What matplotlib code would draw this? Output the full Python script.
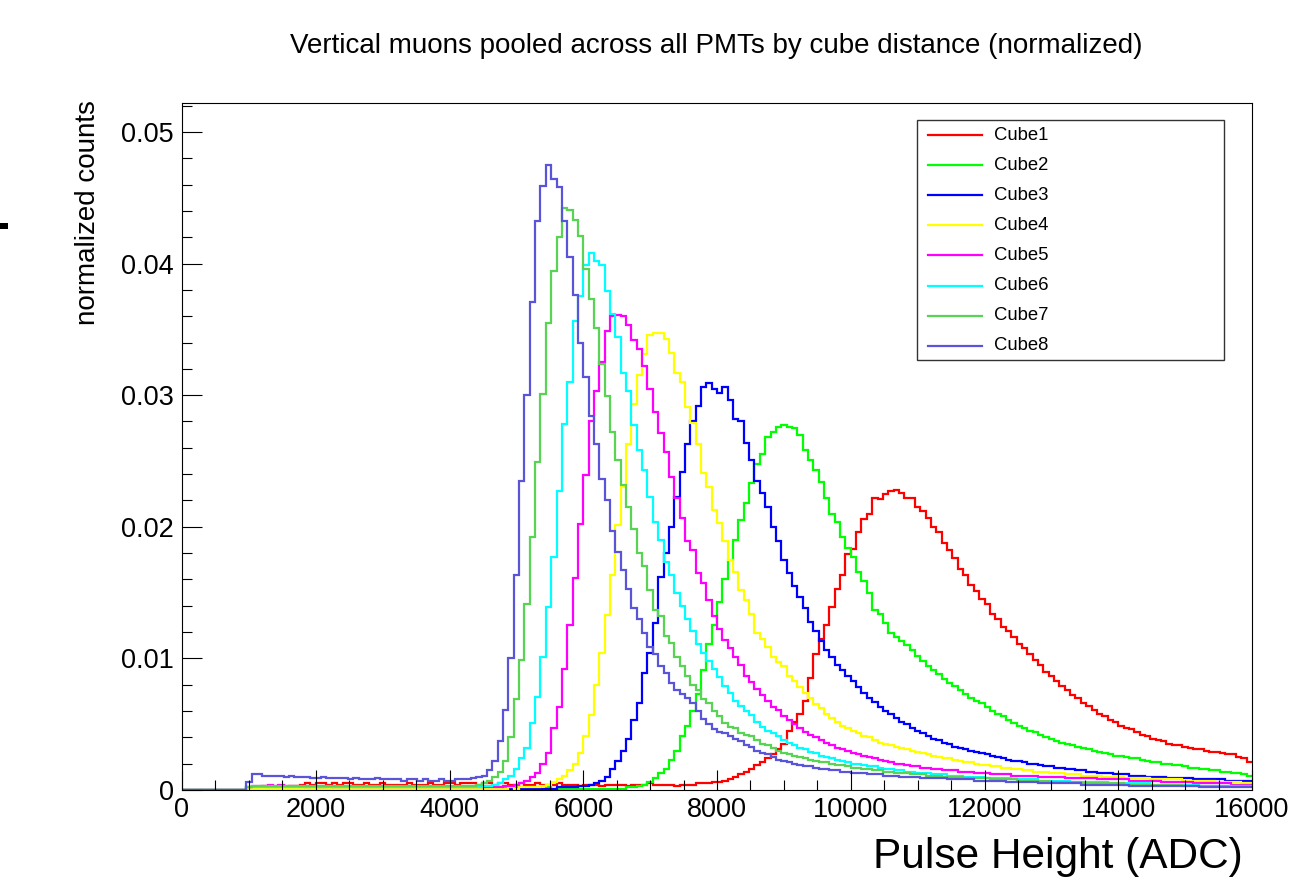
import numpy as np
import matplotlib
matplotlib.use("Agg")
import matplotlib.pyplot as plt
from matplotlib.patches import Rectangle
from matplotlib.lines import Line2D
from matplotlib.ticker import MultipleLocator, FixedLocator

plt.rcParams['font.family'] = ['Liberation Sans', 'DejaVu Sans']

# ---------------- data ----------------
title = "Vertical muons pooled across all PMTs by cube distance (normalized)"
x_label = "Pulse Height (ADC)"
y_label = "normalized counts"
labels = ["Cube1", "Cube2", "Cube3", "Cube4", "Cube5", "Cube6", "Cube7", "Cube8"]
colors = ["#ff0000", "#00ff00", "#0000ff", "#ffff00", "#ff00ff", "#00ffff", "#59d354", "#5954d8"]

bin_lo, bin_hi, n_bins = 0, 16000, 200
x_ticks = [0, 2000, 4000, 6000, 8000, 10000, 12000, 14000, 16000]
y_ticks = [0, 0.01, 0.02, 0.03, 0.04, 0.05]
y_tick_labels = ["0", "0.01", "0.02", "0.03", "0.04", "0.05"]

cube1 = [
0,0,0,0,0,0,0,0,0,0, 0,0,0.0001,0.0002,0.0002,0.0003,0.0002,0.0002,0.0003,0.0002,
0.0003,0.0003,0.0004,0.0005,0.0004,0.0005,0.0005,0.0004,0.0005,0.0004, 0.0005,0.0005,0.0004,0.0004,0.0005,0.0004,0.0004,0.0005,0.0004,0.0004,
0.0004,0.0004,0.0005,0.0004,0.0004,0.0004,0.0005,0.0004,0.0004,0.0005, 0.0005,0.0004,0.0005,0.0005,0.0005,0.0004,0.0005,0.0005,0.0004,0.0005,
0.0005,0.0004,0.0004,0.0005,0.0004,0.0004,0.0005,0.0004,0.0004,0.0004, 0.0005,0.0004,0.0004,0.0004,0.0003,0.0004,0.0004,0.0004,0.0003,0.0004,
0.0004,0.0004,0.0004,0.0003,0.0004,0.0004,0.0004,0.0005,0.0004,0.0004, 0.0004,0.0004,0.0003,0.0004,0.0004,0.0004,0.0005,0.0005,0.0005,0.0006,
0.0006,0.0007,0.0008,0.0010,0.0012,0.0014,0.0016,0.0019,0.0021,0.0024, 0.0027,0.0031,0.0035,0.0045,0.0052,0.0058,0.0068,0.0085,0.0103,0.0115,
0.0125,0.0139,0.0153,0.0163,0.0179,0.0183,0.0196,0.0206,0.0210,0.0222, 0.0221,0.0225,0.0227,0.0228,0.0226,0.0222,0.0222,0.0215,0.0212,0.0207,
0.0200,0.0196,0.0188,0.0182,0.0176,0.0168,0.0163,0.0156,0.0151,0.0145, 0.0141,0.0134,0.0130,0.0124,0.0121,0.0116,0.0111,0.0108,0.0103,0.0099,
0.0095,0.0090,0.0087,0.0083,0.0079,0.0076,0.0072,0.0070,0.0066,0.0064, 0.0061,0.0058,0.0056,0.0053,0.0052,0.0049,0.0047,0.0046,0.0044,0.0042,
0.0041,0.0039,0.0038,0.0037,0.0035,0.0034,0.0034,0.0033,0.0032,0.0031, 0.0031,0.0030,0.0029,0.0029,0.0028,0.0027,0.0027,0.0025,0.0024,0.0021,
]

cube2 = [
0,0,0,0,0,0,0,0,0,0, 0,0,0.0001,0.0002,0.0002,0.0002,0.0002,0.0002,0.0002,0.0002,
0.0002,0.0002,0.0002,0.0002,0.0002,0.0002,0.0002,0.0002,0.0002,0.0002, 0.0002,0.0002,0.0002,0.0002,0.0002,0.0002,0.0002,0.0002,0.0002,0.0002,
0.0002,0.0002,0.0002,0.0002,0.0002,0.0002,0.0002,0.0002,0.0002,0.0002, 0.0002,0.0002,0.0002,0.0002,0.0002,0.0002,0.0002,0.0002,0.0002,0.0002,
0.0002,0.0002,0.0002,0.0002,0.0001,0.0002,0.0002,0.0001,0.0002,0.0001, 0.0001,0.0001,0.0001,0.0001,0.0001,0.0001,0.0001,0.0001,0.0001,0.0001,
0.0001,0.0001,0.0001,0.0002,0.0002,0.0003,0.0004,0.0006,0.0009,0.0013, 0.0016,0.0023,0.0030,0.0041,0.0049,0.0060,0.0073,0.0091,0.0111,0.0125,
0.0143,0.0160,0.0175,0.0190,0.0205,0.0218,0.0233,0.0248,0.0255,0.0268, 0.0272,0.0276,0.0277,0.0276,0.0275,0.0270,0.0258,0.0251,0.0243,0.0234,
0.0222,0.0210,0.0204,0.0192,0.0184,0.0177,0.0166,0.0159,0.0150,0.0137, 0.0134,0.0127,0.0119,0.0116,0.0113,0.0110,0.0106,0.0102,0.0098,0.0094,
0.0091,0.0088,0.0084,0.0081,0.0079,0.0076,0.0073,0.0070,0.0068,0.0066, 0.0063,0.0060,0.0058,0.0056,0.0053,0.0051,0.0049,0.0047,0.0045,0.0044,
0.0042,0.0040,0.0039,0.0037,0.0036,0.0035,0.0034,0.0033,0.0032,0.0031, 0.0030,0.0029,0.0028,0.0027,0.0026,0.0026,0.0025,0.0024,0.0024,0.0023,
0.0022,0.0021,0.0021,0.0020,0.0020,0.0019,0.0019,0.0018,0.0017,0.0017, 0.0016,0.0016,0.0015,0.0015,0.0014,0.0014,0.0013,0.0013,0.0012,0.0011,
]

cube3 = [
0,0,0,0,0,0,0,0,0,0, 0,0,0.0001,0.0001,0.0001,0.0001,0.0001,0.0001,0.0001,0.0001,
0.0001,0.0001,0.0001,0.0001,0.0001,0.0001,0.0001,0.0001,0.0001,0.0001, 0.0001,0.0001,0.0001,0.0001,0.0001,0.0001,0.0001,0.0001,0.0001,0.0001,
0.0001,0.0001,0.0001,0.0001,0.0001,0.0001,0.0001,0.0001,0.0001,0.0001, 0.0001,0.0001,0.0001,0.0001,0.0001,0.0001,0.0001,0.0001,0.0001,0.0001,
0.0001,0.0001,0.0001,0.0001,0.0001,0.0001,0.0001,0.0001,0.0001,0.0001, 0.0002,0.0002,0.0002,0.0002,0.0003,0.0003,0.0004,0.0005,0.0007,0.0010,
0.0016,0.0022,0.0030,0.0039,0.0053,0.0066,0.0089,0.0104,0.0127,0.0162, 0.0180,0.0200,0.0223,0.0242,0.0263,0.0280,0.0292,0.0306,0.0309,0.0305,
0.0302,0.0306,0.0296,0.0282,0.0280,0.0264,0.0251,0.0235,0.0226,0.0215, 0.0200,0.0189,0.0175,0.0165,0.0155,0.0147,0.0138,0.0128,0.0121,0.0113,
0.0106,0.0101,0.0095,0.0091,0.0087,0.0083,0.0078,0.0074,0.0070,0.0067, 0.0063,0.0060,0.0058,0.0055,0.0052,0.0050,0.0047,0.0045,0.0043,0.0041,
0.0039,0.0038,0.0036,0.0035,0.0033,0.0032,0.0031,0.0030,0.0029,0.0028, 0.0027,0.0026,0.0025,0.0024,0.0023,0.0022,0.0022,0.0021,0.0020,0.0020,
0.0019,0.0018,0.0018,0.0017,0.0017,0.0016,0.0016,0.0015,0.0015,0.0014, 0.0014,0.0013,0.0013,0.0013,0.0012,0.0012,0.0012,0.0011,0.0011,0.0011,
0.0010,0.0010,0.0010,0.0010,0.0009,0.0009,0.0009,0.0009,0.0009,0.0008, 0.0008,0.0008,0.0008,0.0008,0.0008,0.0007,0.0007,0.0007,0.0007,0.0007,
]

cube4 = [
0,0,0,0,0,0,0,0,0,0, 0,0,0.0001,0.0001,0.0001,0.0001,0.0001,0.0001,0.0001,0.0001,
0.0001,0.0001,0.0001,0.0001,0.0001,0.0001,0.0001,0.0001,0.0001,0.0001, 0.0001,0.0001,0.0001,0.0001,0.0001,0.0001,0.0001,0.0001,0.0001,0.0001,
0.0001,0.0001,0.0001,0.0001,0.0001,0.0001,0.0001,0.0001,0.0001,0.0001, 0.0001,0.0001,0.0001,0.0001,0.0001,0.0001,0.0001,0.0001,0.0001,0.0001,
0.0001,0.0002,0.0001,0.0002,0.0002,0.0002,0.0002,0.0003,0.0004,0.0006, 0.0008,0.0011,0.0015,0.0020,0.0028,0.0041,0.0057,0.0080,0.0104,0.0133,
0.0163,0.0201,0.0230,0.0263,0.0293,0.0315,0.0331,0.0346,0.0347,0.0347, 0.0343,0.0332,0.0317,0.0310,0.0291,0.0279,0.0263,0.0241,0.0230,0.0213,
0.0203,0.0189,0.0175,0.0166,0.0152,0.0144,0.0134,0.0119,0.0115,0.0109, 0.0101,0.0097,0.0094,0.0087,0.0083,0.0078,0.0074,0.0070,0.0065,0.0062,
0.0058,0.0055,0.0052,0.0049,0.0047,0.0045,0.0043,0.0041,0.0040,0.0038, 0.0036,0.0035,0.0034,0.0033,0.0032,0.0031,0.0030,0.0029,0.0028,0.0027,
0.0026,0.0025,0.0024,0.0024,0.0023,0.0022,0.0021,0.0021,0.0020,0.0019, 0.0019,0.0018,0.0018,0.0017,0.0017,0.0016,0.0016,0.0015,0.0015,0.0014,
0.0014,0.0014,0.0013,0.0013,0.0013,0.0012,0.0012,0.0012,0.0011,0.0011, 0.0011,0.0011,0.0010,0.0010,0.0010,0.0010,0.0009,0.0009,0.0009,0.0009,
0.0009,0.0008,0.0008,0.0008,0.0008,0.0008,0.0008,0.0007,0.0007,0.0007, 0.0007,0.0007,0.0007,0.0006,0.0006,0.0006,0.0006,0.0006,0.0005,0.0005,
]

cube5 = [
0,0,0,0,0,0,0,0,0,0, 0,0,0.0002,0.0003,0.0003,0.0003,0.0004,0.0003,0.0004,0.0003,
0.0003,0.0003,0.0003,0.0002,0.0003,0.0002,0.0002,0.0003,0.0002,0.0002, 0.0002,0.0003,0.0002,0.0002,0.0002,0.0002,0.0002,0.0003,0.0002,0.0002,
0.0002,0.0002,0.0002,0.0002,0.0002,0.0002,0.0002,0.0002,0.0002,0.0002, 0.0002,0.0002,0.0002,0.0002,0.0002,0.0002,0.0002,0.0002,0.0002,0.0002,
0.0003,0.0003,0.0004,0.0005,0.0007,0.0010,0.0013,0.0020,0.0028,0.0047, 0.0063,0.0092,0.0125,0.0161,0.0202,0.0239,0.0280,0.0303,0.0325,0.0349,
0.0360,0.0361,0.0360,0.0353,0.0342,0.0335,0.0322,0.0305,0.0287,0.0271, 0.0257,0.0238,0.0222,0.0207,0.0189,0.0182,0.0165,0.0157,0.0144,0.0132,
0.0122,0.0114,0.0108,0.0101,0.0095,0.0087,0.0082,0.0077,0.0072,0.0068, 0.0063,0.0061,0.0056,0.0053,0.0050,0.0047,0.0044,0.0042,0.0040,0.0038,
0.0036,0.0034,0.0032,0.0031,0.0030,0.0028,0.0027,0.0026,0.0025,0.0024, 0.0023,0.0022,0.0021,0.0020,0.0020,0.0019,0.0018,0.0018,0.0017,0.0017,
0.0016,0.0016,0.0015,0.0015,0.0015,0.0014,0.0014,0.0014,0.0013,0.0013, 0.0013,0.0012,0.0012,0.0012,0.0012,0.0011,0.0011,0.0011,0.0011,0.0011,
0.0010,0.0010,0.0010,0.0010,0.0010,0.0009,0.0009,0.0009,0.0009,0.0009, 0.0009,0.0008,0.0008,0.0008,0.0008,0.0008,0.0008,0.0007,0.0007,0.0007,
0.0007,0.0007,0.0007,0.0006,0.0006,0.0006,0.0006,0.0006,0.0006,0.0005, 0.0005,0.0005,0.0005,0.0005,0.0005,0.0005,0.0004,0.0004,0.0004,0.0004,
]

cube6 = [
0,0,0,0,0,0,0,0,0,0, 0,0,0.0002,0.0002,0.0002,0.0002,0.0002,0.0002,0.0002,0.0002,
0.0002,0.0002,0.0002,0.0002,0.0002,0.0002,0.0002,0.0002,0.0002,0.0002, 0.0002,0.0002,0.0002,0.0002,0.0002,0.0002,0.0002,0.0002,0.0002,0.0002,
0.0002,0.0002,0.0002,0.0002,0.0002,0.0002,0.0002,0.0002,0.0002,0.0002, 0.0002,0.0002,0.0002,0.0002,0.0002,0.0002,0.0003,0.0003,0.0004,0.0005,
0.0008,0.0011,0.0016,0.0024,0.0032,0.0051,0.0071,0.0101,0.0139,0.0177, 0.0227,0.0278,0.0310,0.0356,0.0375,0.0399,0.0408,0.0402,0.0399,0.0379,
0.0362,0.0344,0.0317,0.0303,0.0277,0.0258,0.0243,0.0223,0.0204,0.0190, 0.0173,0.0163,0.0150,0.0140,0.0130,0.0121,0.0111,0.0104,0.0098,0.0092,
0.0086,0.0079,0.0074,0.0068,0.0064,0.0060,0.0057,0.0052,0.0048,0.0045, 0.0043,0.0041,0.0038,0.0036,0.0034,0.0032,0.0031,0.0029,0.0028,0.0026,
0.0025,0.0024,0.0023,0.0022,0.0021,0.0020,0.0020,0.0019,0.0018,0.0018, 0.0017,0.0016,0.0016,0.0015,0.0015,0.0014,0.0014,0.0013,0.0013,0.0013,
0.0012,0.0012,0.0012,0.0011,0.0011,0.0011,0.0010,0.0010,0.0010,0.0010, 0.0009,0.0009,0.0009,0.0009,0.0009,0.0008,0.0008,0.0008,0.0008,0.0008,
0.0007,0.0007,0.0007,0.0007,0.0007,0.0007,0.0006,0.0006,0.0006,0.0006, 0.0006,0.0006,0.0006,0.0005,0.0005,0.0005,0.0005,0.0005,0.0005,0.0005,
0.0005,0.0004,0.0004,0.0004,0.0004,0.0004,0.0004,0.0004,0.0004,0.0004, 0.0003,0.0003,0.0003,0.0003,0.0003,0.0003,0.0003,0.0003,0.0003,0.0003,
]

cube7 = [
0,0,0,0,0,0,0,0,0,0, 0,0,0.0002,0.0003,0.0003,0.0003,0.0003,0.0003,0.0003,0.0003,
0.0003,0.0003,0.0003,0.0003,0.0003,0.0003,0.0003,0.0003,0.0003,0.0003, 0.0003,0.0003,0.0003,0.0003,0.0003,0.0003,0.0003,0.0003,0.0003,0.0003,
0.0003,0.0003,0.0003,0.0003,0.0003,0.0003,0.0003,0.0003,0.0003,0.0003, 0.0003,0.0003,0.0003,0.0003,0.0003,0.0004,0.0005,0.0007,0.0010,0.0014,
0.0022,0.0040,0.0069,0.0099,0.0141,0.0192,0.0249,0.0301,0.0355,0.0394, 0.0420,0.0442,0.0441,0.0433,0.0421,0.0396,0.0373,0.0351,0.0324,0.0299,
0.0272,0.0251,0.0232,0.0215,0.0198,0.0180,0.0170,0.0152,0.0137,0.0132, 0.0117,0.0112,0.0101,0.0094,0.0087,0.0080,0.0076,0.0069,0.0066,0.0060,
0.0056,0.0051,0.0048,0.0047,0.0043,0.0042,0.0041,0.0038,0.0035,0.0034, 0.0032,0.0030,0.0028,0.0027,0.0026,0.0025,0.0024,0.0023,0.0022,0.0021,
0.0021,0.0020,0.0019,0.0019,0.0018,0.0017,0.0017,0.0016,0.0016,0.0015, 0.0015,0.0014,0.0014,0.0013,0.0013,0.0013,0.0012,0.0012,0.0012,0.0011,
0.0011,0.0011,0.0010,0.0010,0.0010,0.0010,0.0009,0.0009,0.0009,0.0009, 0.0009,0.0008,0.0008,0.0008,0.0008,0.0008,0.0007,0.0007,0.0007,0.0007,
0.0007,0.0007,0.0006,0.0006,0.0006,0.0006,0.0006,0.0006,0.0005,0.0005, 0.0005,0.0005,0.0005,0.0005,0.0005,0.0005,0.0004,0.0004,0.0004,0.0004,
0.0004,0.0004,0.0004,0.0004,0.0004,0.0004,0.0004,0.0003,0.0003,0.0003, 0.0003,0.0003,0.0003,0.0003,0.0003,0.0003,0.0003,0.0003,0.0003,0.0003,
]

cube8 = [
0,0,0,0,0,0,0,0,0,0, 0,0,0.0006,0.0012,0.0012,0.0011,0.0011,0.0011,0.0011,0.0010,
0.0011,0.0010,0.0010,0.0010,0.0009,0.0009,0.0010,0.0009,0.0009,0.0009, 0.0009,0.0008,0.0009,0.0008,0.0008,0.0008,0.0009,0.0008,0.0008,0.0008,
0.0008,0.0007,0.0008,0.0008,0.0007,0.0008,0.0007,0.0007,0.0008,0.0007, 0.0007,0.0008,0.0008,0.0008,0.0009,0.0010,0.0011,0.0015,0.0022,0.0037,
0.0061,0.0100,0.0163,0.0235,0.0300,0.0371,0.0432,0.0459,0.0475,0.0464, 0.0458,0.0432,0.0405,0.0376,0.0340,0.0314,0.0284,0.0263,0.0236,0.0220,
0.0197,0.0181,0.0167,0.0153,0.0138,0.0130,0.0119,0.0109,0.0103,0.0094, 0.0089,0.0081,0.0076,0.0073,0.0070,0.0066,0.0060,0.0054,0.0050,0.0046,
0.0044,0.0043,0.0041,0.0039,0.0037,0.0034,0.0033,0.0030,0.0028,0.0027, 0.0025,0.0023,0.0022,0.0021,0.0020,0.0019,0.0018,0.0018,0.0017,0.0016,
0.0016,0.0015,0.0015,0.0014,0.0014,0.0013,0.0013,0.0013,0.0012,0.0012, 0.0012,0.0011,0.0011,0.0011,0.0010,0.0010,0.0010,0.0010,0.0009,0.0009,
0.0009,0.0009,0.0009,0.0008,0.0008,0.0008,0.0008,0.0008,0.0007,0.0007, 0.0007,0.0007,0.0007,0.0007,0.0006,0.0006,0.0006,0.0006,0.0006,0.0006,
0.0005,0.0005,0.0005,0.0005,0.0005,0.0005,0.0005,0.0005,0.0004,0.0004, 0.0004,0.0004,0.0004,0.0004,0.0004,0.0004,0.0004,0.0003,0.0003,0.0003,
0.0003,0.0003,0.0003,0.0003,0.0003,0.0003,0.0003,0.0003,0.0003,0.0003, 0.0002,0.0002,0.0002,0.0002,0.0002,0.0002,0.0002,0.0002,0.0002,0.0002,
]

series = [cube1, cube2, cube3, cube4, cube5, cube6, cube7, cube8]

# ---------------- figure ----------------
W, H = 1301, 880
fig = plt.figure(figsize=(W / 100, H / 100), dpi=100)
fig.patch.set_facecolor("white")

def fx(px):
    return px / W

def fy(py):
    return 1 - py / H

ax_l, ax_r, ax_t, ax_b = 182, 1252, 103, 790
ax = fig.add_axes([fx(ax_l), fy(ax_b), fx(ax_r - ax_l), (ax_b - ax_t) / H])

edges = np.linspace(bin_lo, bin_hi, n_bins + 1)
for vals, col, lab in zip(series, colors, labels):
    ax.stairs(np.array(vals), edges, color=col, lw=1.6, baseline=None, label=lab)

ax.set_xlim(bin_lo, bin_hi)
ax.set_ylim(0, 0.0522)
ax.xaxis.set_major_locator(FixedLocator(x_ticks))
ax.xaxis.set_minor_locator(MultipleLocator(500))
ax.yaxis.set_major_locator(FixedLocator(y_ticks))
ax.yaxis.set_minor_locator(MultipleLocator(0.002))
ax.set_xticklabels([str(v) for v in x_ticks])
ax.set_yticklabels(y_tick_labels)

ax.tick_params(which="both", direction="in", top=False, right=False, width=0.8, color="black")
ax.tick_params(axis="x", which="major", length=14.5, labelsize=19.5, pad=5)
ax.tick_params(axis="x", which="minor", length=7)
ax.tick_params(axis="y", which="major", length=14.5, labelsize=19.5, pad=6)
ax.tick_params(axis="y", which="minor", length=7)
for sp in ax.spines.values():
    sp.set_linewidth(0.8)

# title and axis titles
fig.text(fx(716), fy(46), title, ha="center", va="center", fontsize=20)
fig.text(fx(1243), fy(857), x_label, ha="right", va="center", fontsize=30.5)
fig.text(fx(88), fy(100), y_label, ha="center", va="top", rotation=90, fontsize=20)

# legend box
leg_l, leg_r, leg_t, leg_b = 917, 1224, 120, 360
fig.patches.append(Rectangle((fx(leg_l), fy(leg_b)), fx(leg_r - leg_l), (leg_b - leg_t) / H,
                             transform=fig.transFigure, facecolor="white",
                             edgecolor="#333333", lw=1.0, zorder=5))
row0, row_step = 135, 30.1
for i, (lab, col) in enumerate(zip(labels, colors)):
    yy = fy(row0 + i * row_step)
    fig.lines.append(Line2D([fx(928), fx(982)], [yy, yy], transform=fig.transFigure,
                            color=col, lw=1.6, zorder=6))
    fig.text(fx(994), yy, lab, ha="left", va="center", fontsize=13.3, zorder=6)

# small black mark at the canvas left edge
fig.patches.append(Rectangle((0, fy(229)), fx(8), 6 / H, transform=fig.transFigure,
                             facecolor="black", edgecolor="none"))

fig.savefig("out.png", dpi=100)
